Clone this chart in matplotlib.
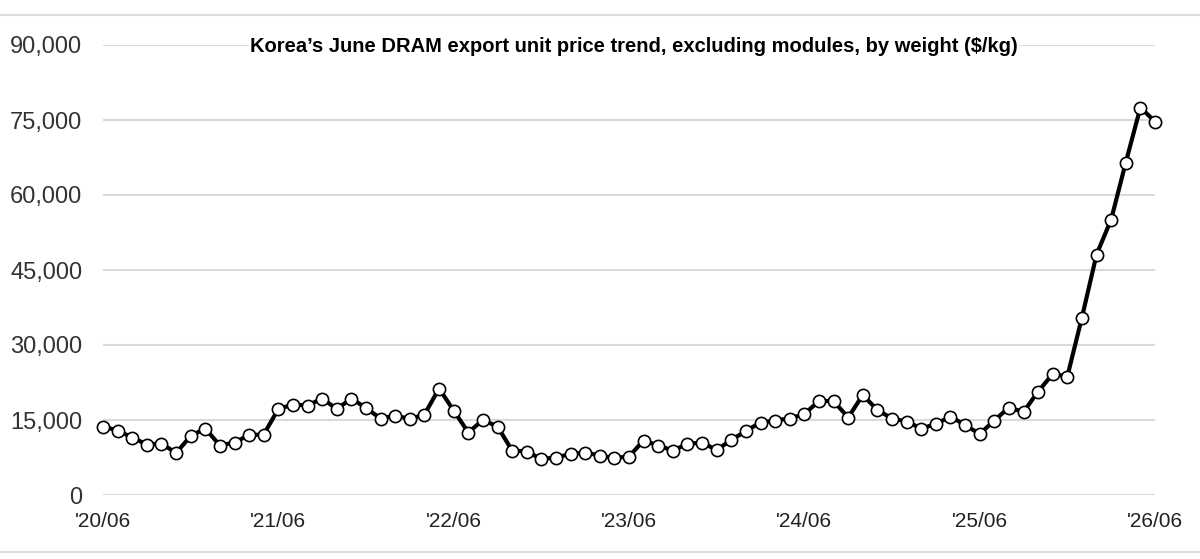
import matplotlib
matplotlib.use("Agg")
import matplotlib.pyplot as plt
from matplotlib.lines import Line2D
from matplotlib.ticker import FuncFormatter

plt.rcParams['font.family'] = ['Liberation Sans', 'DejaVu Sans']

title = "Korea\u2019s June DRAM export unit price trend, excluding modules, by weight ($/kg)"

# monthly values, '20/06 .. '26/06 ($/kg)
values = [
    13700, 12900, 11500, 10100, 10300, 8400, 11800, 13300, 9900, 10500, 12000, 12100,
    17200, 18100, 17900, 19300, 17200, 19300, 17400, 15300, 15900, 15200, 16100, 21300,
    16900, 12500, 15000, 13700, 8900, 8700, 7200, 7500, 8200, 8500, 7900, 7400,
    7700, 10900, 9900, 8900, 10200, 10500, 9000, 11000, 12800, 14500, 14900, 15300,
    16200, 18800, 18800, 15500, 20000, 17000, 15300, 14700, 13300, 14200, 15700, 14000,
    12200, 14900, 17500, 16600, 20700, 24200, 23700, 35500, 48100, 55100, 66500, 77500,
    74700,
]
x_tick_labels = ["'20/06", "'21/06", "'22/06", "'23/06", "'24/06", "'25/06", "'26/06"]
y_ticks = [0, 15000, 30000, 45000, 60000, 75000, 90000]

W, H = 1200, 559
fig = plt.figure(figsize=(W / 100, H / 100), dpi=100)
left, right, bottom, top = 103, 1155, 495, 45
ax = fig.add_axes([left / W, 1 - bottom / H, (right - left) / W, (bottom - top) / H])

x = list(range(len(values)))
ax.plot(x, values, color='black', lw=3.0, marker='o', ms=8.8,
        markerfacecolor='white', markeredgecolor='black', markeredgewidth=1.2,
        clip_on=False, zorder=3)

ax.set_xlim(0, len(values) - 1)
ax.set_ylim(0, 90000)
ax.set_yticks(y_ticks)
ax.yaxis.set_major_formatter(FuncFormatter(lambda v, p: f"{int(v):,}"))
ax.set_xticks(range(0, len(values), 12))
ax.set_xticklabels(x_tick_labels)
ax.grid(axis='y', color='#d9d9d9', lw=1.5, zorder=0)
ax.set_axisbelow(True)
for s in ax.spines.values():
    s.set_visible(False)
ax.tick_params(axis='y', length=0, pad=15, labelsize=17, labelcolor='#333333')
ax.tick_params(axis='x', length=0, pad=12, labelsize=15, labelcolor='#222222')

fig.text(634 / W, 1 - 47 / H, title, ha='center', va='center', fontsize=14.5,
         fontweight='bold', color='black',
         bbox=dict(facecolor='white', edgecolor='none', pad=1))

# light frame lines at top and bottom of picture
for yy in (15, 552):
    fig.add_artist(Line2D([0, 1], [1 - yy / H, 1 - yy / H], color='#dddddd', lw=1.6,
                          transform=fig.transFigure))

fig.savefig("out.png", dpi=100)
